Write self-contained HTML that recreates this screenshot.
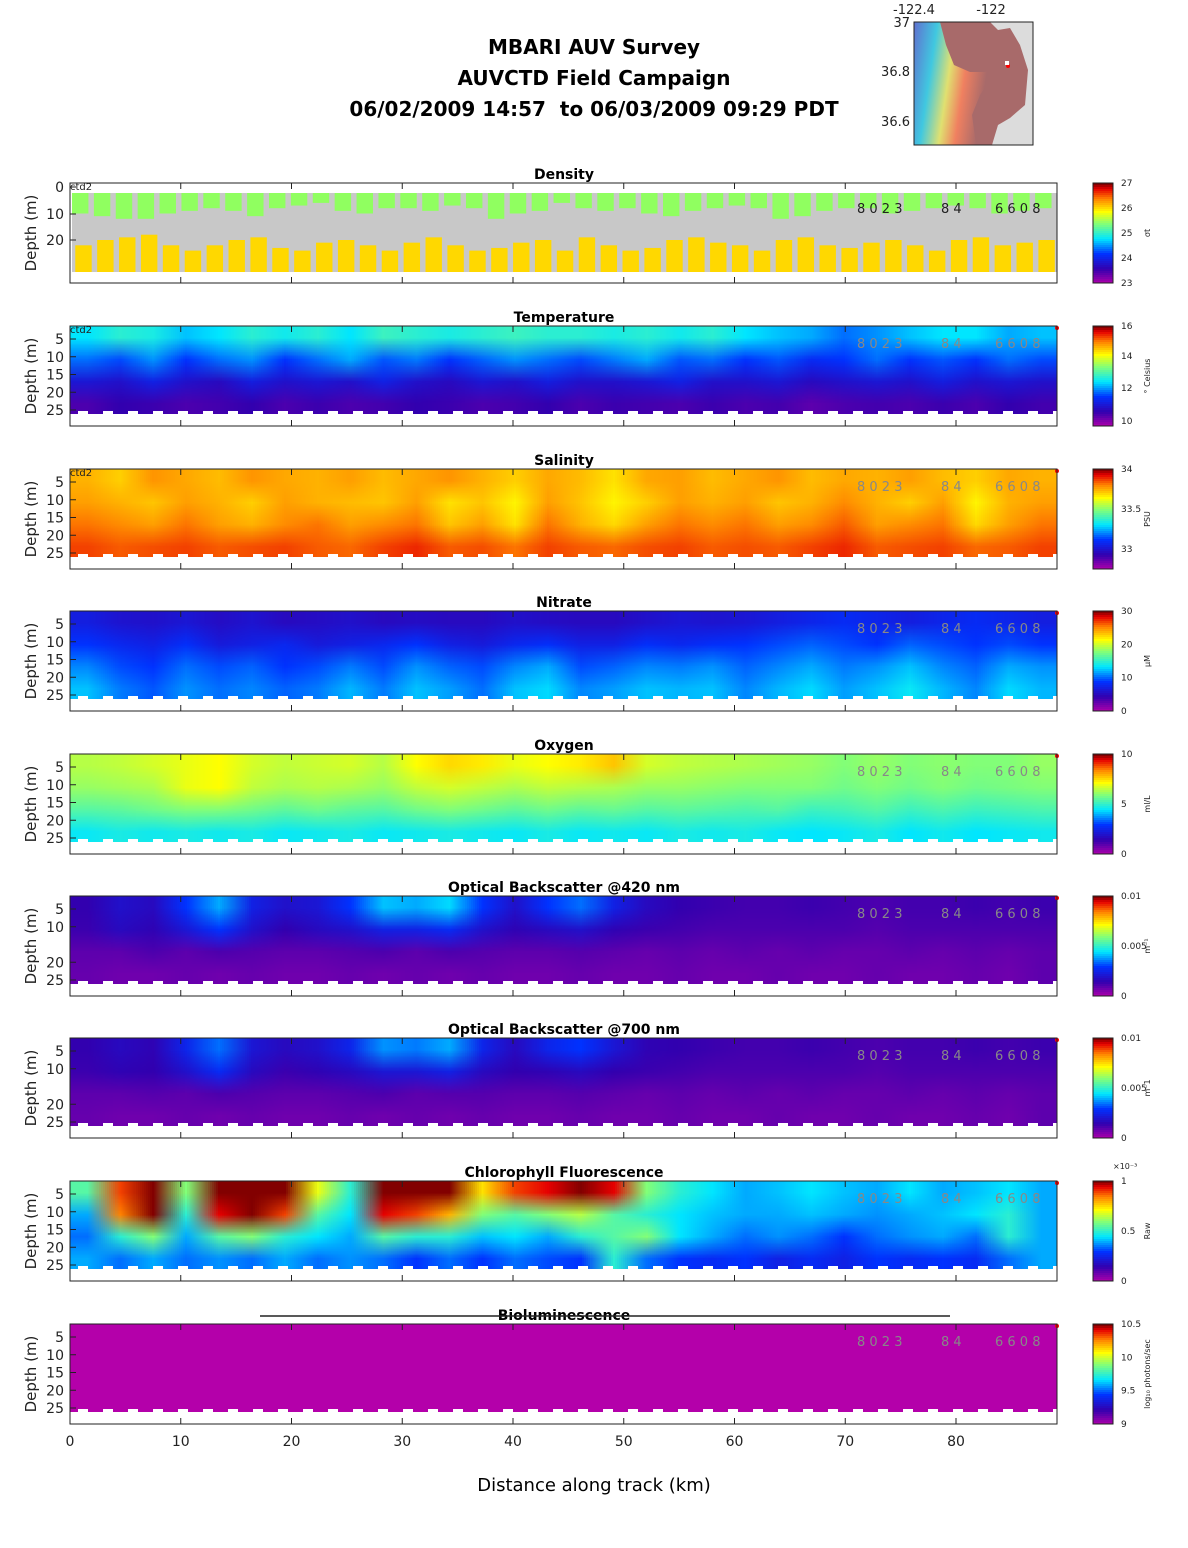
<!DOCTYPE html>
<html><head><meta charset="utf-8">
<style>
body{margin:0;background:#fff;font-family:"DejaVu Sans","Liberation Sans",sans-serif;}
#root{position:relative;width:1188px;height:1548px;overflow:hidden;}
.t{position:absolute;white-space:nowrap;color:#000;}
</style></head>
<body><div id="root">
<div class="t" style="left:0;width:1188px;text-align:center;top:32px;font-size:20px;font-weight:bold;line-height:31px;"><div>MBARI AUV Survey</div><div>AUVCTD Field Campaign</div><div>06/02/2009 14:57&nbsp; to 06/03/2009 09:29 PDT</div></div>
<svg id="map" style="position:absolute;left:880px;top:0" width="160" height="150">
<defs><linearGradient id="mg" x1="0" y1="0" x2="1" y2="0.2"><stop offset="0" stop-color="#6070d0"/><stop offset="0.25" stop-color="#40c8e0"/><stop offset="0.45" stop-color="#e0e070"/><stop offset="0.62" stop-color="#f08060"/><stop offset="0.85" stop-color="#a86a6a"/></linearGradient></defs>
<rect x="34" y="22" width="119" height="123" fill="#dcdcdc"/>
<path d="M34 22 H110 L118 30 L130 28 L140 45 L148 70 L145 105 L130 118 L118 125 L112 145 H34 Z" fill="#a86a6a"/>
<path d="M34 22 H60 L66 45 L74 65 L90 72 L105 72 L125 65 L110 80 L100 95 L92 115 L96 145 H34 Z" fill="url(#mg)"/>
<circle cx="128" cy="66" r="2" fill="red"/><rect x="125" y="61" width="4" height="4" fill="#fff"/>
<rect x="34" y="22" width="119" height="123" fill="none" stroke="#222"/>
<text x="34" y="14" font-size="13" text-anchor="middle" fill="#222" font-family="DejaVu Sans">-122.4</text>
<text x="111" y="14" font-size="13" text-anchor="middle" fill="#222" font-family="DejaVu Sans">-122</text>
<text x="30" y="27" font-size="13" text-anchor="end" fill="#222" font-family="DejaVu Sans">37</text>
<text x="30" y="76" font-size="13" text-anchor="end" fill="#222" font-family="DejaVu Sans">36.8</text>
<text x="30" y="126" font-size="13" text-anchor="end" fill="#222" font-family="DejaVu Sans">36.6</text>
</svg>
<svg id="plots" style="position:absolute;left:0;top:0" width="1188" height="1548"></svg>
<div class="t" style="left:0;width:1188px;text-align:center;top:1475px;font-size:18px;">Distance along track (km)</div>
</div>
<script>
// ---- data ----
const xTicks=[0,10,20,30,40,50,60,70,80];
const densGreen=[10,11,12,12,10,9,8,9,11,8,7,6,9,10,8,8,9,7,8,12,10,9,6,8,9,8,10,11,9,8,7,8,12,11,9,8,8,10,9,8,7,8,10,9,8];
const densYellow=[22,20,19,18,22,24,22,20,19,23,24,21,20,22,24,21,19,22,24,23,21,20,24,19,22,24,23,20,19,21,22,24,20,19,22,23,21,20,22,24,20,19,22,21,20];
const tempTop=[.45,.5,.48,.42,.45,.5,.47,.5,.45,.52,.5,.48,.5,.52,.5,.5,.48,.5,.47,.5,.45,.42,.4,.35,.38,.42,.45,.45,.4,.42];
const tempR2=[.35,.32,.38,.3,.35,.38,.3,.35,.4,.33,.36,.3,.34,.38,.35,.32,.36,.4,.33,.35,.3,.33,.28,.3,.35,.3,.33,.3,.35,.32];
const tempR3=[.22,.2,.25,.2,.18,.24,.2,.22,.2,.25,.2,.18,.22,.2,.24,.2,.2,.22,.25,.2,.2,.22,.18,.2,.22,.2,.24,.2,.22,.2];
const tempBot=[.12,.15,.14,.12,.13,.15,.12,.14,.12,.13,.15,.14,.12,.13,.15,.12,.14,.13,.12,.14,.12,.13,.1,.12,.13,.12,.14,.12,.15,.13];
const salTop=[.8,.77,.83,.81,.79,.83,.81,.8,.82,.79,.81,.83,.8,.77,.81,.79,.75,.81,.82,.79,.81,.83,.79,.81,.8,.82,.79,.77,.81,.8];
const salR2=[.82,.8,.78,.82,.8,.77,.82,.8,.79,.78,.82,.75,.78,.73,.82,.78,.73,.77,.82,.8,.82,.78,.8,.84,.8,.77,.82,.73,.8,.82];
const salR3=[.86,.84,.82,.86,.82,.8,.84,.86,.82,.84,.86,.78,.82,.75,.86,.8,.76,.82,.86,.84,.86,.82,.84,.88,.82,.84,.86,.76,.82,.86];
const salBot=[.9,.88,.89,.9,.88,.89,.9,.88,.87,.9,.92,.88,.89,.86,.9,.88,.87,.89,.9,.88,.89,.88,.9,.92,.88,.89,.9,.87,.88,.9];
const nitTop=[.24,.21,.2,.22,.19,.21,.18,.19,.2,.18,.19,.18,.18,.2,.19,.18,.18,.2,.22,.21,.22,.24,.26,.28,.26,.24,.26,.28,.26,.24];
const nitR2=[.3,.27,.25,.29,.23,.25,.27,.23,.25,.27,.3,.25,.23,.27,.29,.25,.25,.29,.27,.29,.3,.32,.34,.32,.3,.34,.32,.3,.32,.3];
const nitR3=[.37,.32,.3,.35,.32,.34,.3,.32,.36,.32,.38,.34,.32,.37,.4,.32,.34,.37,.36,.38,.34,.37,.4,.36,.38,.42,.37,.34,.4,.38];
const nitBot=[.42,.36,.33,.38,.35,.37,.34,.36,.41,.36,.42,.39,.35,.42,.44,.37,.39,.42,.41,.42,.37,.41,.44,.39,.42,.46,.41,.37,.44,.41];
const oxTop=[.65,.66,.68,.7,.72,.68,.66,.67,.68,.65,.72,.76,.74,.7,.72,.74,.78,.68,.66,.65,.64,.63,.62,.6,.62,.6,.61,.6,.6,.62];
const oxR2=[.62,.63,.64,.7,.72,.66,.64,.65,.64,.62,.66,.68,.66,.64,.66,.65,.64,.62,.62,.61,.6,.6,.6,.58,.6,.58,.6,.58,.59,.6];
const oxR3=[.55,.56,.58,.6,.6,.58,.56,.58,.56,.55,.58,.6,.58,.56,.58,.56,.57,.55,.56,.55,.54,.55,.52,.53,.55,.52,.54,.52,.53,.54];
const oxBot=[.46,.48,.47,.48,.47,.48,.46,.47,.48,.46,.47,.48,.47,.46,.48,.46,.47,.46,.48,.47,.48,.46,.45,.46,.48,.45,.47,.45,.46,.47];
const b420Top=[.15,.2,.18,.3,.4,.25,.2,.22,.3,.42,.4,.44,.3,.2,.3,.35,.25,.18,.15,.14,.13,.13,.14,.13,.12,.13,.13,.14,.13,.14];
const b420R2=[.14,.18,.16,.22,.3,.2,.15,.18,.2,.25,.25,.28,.2,.16,.18,.2,.16,.14,.13,.12,.12,.12,.12,.12,.11,.12,.12,.12,.12,.12];
const b420R3=[.1,.1,.12,.1,.12,.11,.1,.1,.11,.12,.1,.12,.11,.1,.1,.11,.1,.09,.1,.09,.1,.09,.1,.09,.09,.1,.09,.1,.09,.1];
const b420Bot=[.09,.08,.08,.09,.08,.09,.08,.08,.09,.08,.09,.08,.09,.08,.08,.09,.08,.08,.09,.08,.08,.09,.08,.08,.09,.08,.08,.09,.08,.1];
const b700Top=[.15,.18,.16,.26,.35,.22,.18,.2,.26,.38,.36,.4,.26,.18,.26,.3,.22,.16,.15,.14,.13,.13,.14,.13,.12,.13,.13,.14,.13,.14];
const b700R2=[.14,.16,.15,.2,.28,.18,.14,.16,.18,.22,.22,.25,.18,.15,.16,.18,.15,.14,.13,.12,.12,.12,.12,.12,.11,.12,.12,.12,.12,.12];
const b700R3=[.1,.1,.11,.1,.12,.11,.1,.1,.11,.12,.1,.11,.11,.1,.1,.11,.1,.09,.1,.09,.1,.09,.1,.09,.09,.1,.09,.1,.09,.1];
const b700Bot=[.09,.08,.08,.09,.08,.09,.08,.08,.09,.08,.09,.08,.09,.08,.08,.09,.08,.08,.09,.08,.08,.09,.08,.08,.09,.08,.08,.09,.08,.1];
const chlTop=[.55,.9,1,.6,1,1,1,.7,.5,1,1,1,.75,.9,.95,1,.95,.6,.5,.45,.4,.42,.45,.42,.4,.45,.4,.42,.45,.4];
const chlR2=[.4,.85,1,.5,.95,1,.9,.55,.45,.95,.9,.8,.6,.55,.6,.65,.55,.5,.45,.42,.4,.4,.42,.4,.38,.4,.42,.45,.5,.4];
const chlR3=[.35,.5,.6,.4,.55,.6,.5,.45,.4,.55,.5,.5,.42,.45,.4,.5,.55,.6,.45,.4,.35,.38,.35,.3,.35,.38,.4,.35,.5,.4];
const chlBot=[.4,.35,.4,.35,.38,.35,.4,.35,.38,.35,.3,.35,.3,.35,.32,.3,.5,.35,.3,.28,.3,.25,.28,.25,.3,.28,.3,.28,.35,.4];
const bioTop=[0,0,0,0,0,0,0,0,0,0,0,0,0,0,0,0,0,0,0,0,0,0,0,0,0,0,0,0,0,0];
const bioBot=[0,0,0,0,0,0,0,0,0,0,0,0,0,0,0,0,0,0,0,0,0,0,0,0,0,0,0,0,0,0];

// ---- drawing ----
const svg=document.getElementById('plots');
const NS='http://www.w3.org/2000/svg';
const X0=70,X1=1057,xScale=v=>X0+v*(956-70)/80;
const stops=[[0,[180,0,170]],[.15,[50,0,175]],[.3,[0,50,255]],[.45,[0,230,255]],[.6,[130,255,120]],[.72,[255,255,0]],[.85,[255,130,0]],[.95,[230,0,0]],[1,[130,0,0]]];
function cmap(v){v=Math.max(0,Math.min(1,v));for(let i=1;i<stops.length;i++){if(v<=stops[i][0]){const a=stops[i-1],b=stops[i],t=(v-a[0])/(b[0]-a[0]);return a[1].map((c,k)=>Math.round(c+(b[1][k]-c)*t));}}return stops[stops.length-1][1];}
function el(tag,attrs,parent){const e=document.createElementNS(NS,tag);for(const k in attrs)e.setAttribute(k,attrs[k]);(parent||svg).appendChild(e);return e;}
function txt(x,y,s,size,anchor,extra){const e=el('text',Object.assign({x:x,y:y,'font-size':size,'text-anchor':anchor||'start','font-family':'DejaVu Sans, Liberation Sans, sans-serif',fill:'#222'},extra||{}));e.textContent=s;return e;}

const panels=[
 {name:'density',title:'Density',top:183,rows:null,ticks:[[0,187],[10,214],[20,240]],cb:['23','24','25','26','27'],unit:'σt',ctd:true},
 {name:'temperature',title:'Temperature',top:326,rows:[tempTop,tempR2,tempR3,tempBot],cb:['10','12','14','16'],cbv:[0.05,0.38,0.7,1],unit:'° Celsius',ctd:true},
 {name:'salinity',title:'Salinity',top:469,rows:[salTop,salR2,salR3,salBot],cb:['33','33.5','34'],cbv:[0.2,0.6,1],unit:'PSU',ctd:true},
 {name:'nitrate',title:'Nitrate',top:611,rows:[nitTop,nitR2,nitR3,nitBot],cb:['0','10','20','30'],unit:'μM'},
 {name:'oxygen',title:'Oxygen',top:754,rows:[oxTop,oxR2,oxR3,oxBot],cb:['0','5','10'],unit:'ml/L'},
 {name:'backscatter-420',title:'Optical Backscatter @420 nm',top:896,rows:[b420Top,b420R2,b420R3,b420Bot],cb:['0','0.005','0.01'],unit:'m⁻¹',no15:true},
 {name:'backscatter-700',title:'Optical Backscatter @700 nm',top:1038,rows:[b700Top,b700R2,b700R3,b700Bot],cb:['0','0.005','0.01'],unit:'m⁻1',no15:true},
 {name:'chlorophyll',title:'Chlorophyll Fluorescence',top:1181,rows:[chlTop,chlR2,chlR3,chlBot],cb:['0','0.5','1'],unit:'Raw',exp:true},
 {name:'bioluminescence',title:'Bioluminescence',top:1324,rows:[bioTop,bioTop,bioBot,bioBot],cb:['9','9.5','10','10.5'],unit:'log₁₀ photons/sec'}
];
panels.forEach((p,pi)=>{
 const g=el('g',{});
 
 
 const T=p.top,H=100;
 const tt=txt(564,T-4,p.title,14,'middle',{'font-weight':'bold',fill:'#000'});
 
 
 if(p.name==='density'){
  const bg=el('rect',{x:X0+2,y:193,width:X1-X0-2,height:79,fill:'#c8c8c8'},g);
  
  
  const n=densGreen.length,w=(X1-X0-2)/n,dy=d=>187+d*2.65;
  densGreen.forEach((d,i)=>{const r=el('rect',{x:X0+2+i*w,y:193,width:w*0.75,height:dy(d)-193,fill:'#90ff60'},g);
   
   });
  densYellow.forEach((d,i)=>{const r=el('rect',{x:X0+2+i*w+w*0.15,y:dy(d),width:w*0.75,height:272-dy(d),fill:'#ffd800'},g);
   
   });
 } else {
  const fo=el('foreignObject',{x:X0,y:T,width:X1-X0,height:88},g);
  const c=document.createElement('canvas');
  const rows=p.rows,cols=rows[0].length;
  c.width=cols;c.height=rows.length;
  c.style.cssText='width:'+(X1-X0)+'px;height:88px;display:block;image-rendering:auto;';
  
  
  const ctx=c.getContext('2d');const img=ctx.createImageData(cols,rows.length);
  rows.forEach((r,ri)=>r.forEach((v,ci)=>{const col=cmap(v),o=(ri*cols+ci)*4;img.data[o]=col[0];img.data[o+1]=col[1];img.data[o+2]=col[2];img.data[o+3]=255;}));
  ctx.putImageData(img,0,0);fo.appendChild(c);
  for(let k=0;k<40;k++){el('rect',{x:X0+k*25+8,y:T+85,width:10,height:3,fill:'#fff'},g);}
  const ys=p.no15?[5,10,20,25]:[5,10,15,20,25];
  ys.forEach(d=>{const y=T+13+(d-5)*3.55;txt(64,y+5,String(d),14,'end');el('line',{x1:X0,x2:X0+6,y1:y,y2:y,stroke:'#222'},g);});
  el('circle',{cx:1057,cy:T+2,r:2,fill:'red'},g);
 }
 if(p.ticks)p.ticks.forEach(t=>{txt(64,t[1]+5,String(t[0]),14,'end');el('line',{x1:X0,x2:X0+6,y1:t[1],y2:t[1],stroke:'#222'},g);});
 el('rect',{x:X0,y:T,width:X1-X0,height:H,fill:'none',stroke:'#222','stroke-width':1},g);
 xTicks.forEach(v=>{const x=xScale(v);el('line',{x1:x,x2:x,y1:T+H,y2:T+H-6,stroke:'#222'},g);el('line',{x1:x,x2:x,y1:T,y2:T+6,stroke:'#222'},g);
  if(pi===panels.length-1)txt(x,T+H+22,String(v),14,'middle');});
 const yl=txt(0,0,'Depth (m)',15,'middle',{transform:'translate(36,'+(T+H/2)+') rotate(-90)'});
 
 
 if(p.ctd)txt(X0,T+7,'ctd2',10,'start');
 const mc=p.name==='density'?'#222':'#888';
 txt(857,T+(p.name==='density'?30:22),'8 0 2 3',13,'start',{fill:mc});
 txt(941,T+(p.name==='density'?30:22),'8 4',13,'start',{fill:mc});
 txt(995,T+(p.name==='density'?30:22),'6 6 0 8',13,'start',{fill:mc});
 const cb=el('g',{},g);
 
 
 for(let k=0;k<50;k++){const col=cmap(1-k/50);el('rect',{x:1093,y:T+k*2,width:20,height:2.2,fill:'rgb('+col+')'},cb);}
 el('rect',{x:1093,y:T,width:20,height:H,fill:'none',stroke:'#222'},cb);
 const n=p.cb.length;
 p.cb.forEach((s,i)=>{const f=p.cbv?p.cbv[i]:i/(n-1);const y=T+H-f*H;txt(1121,y+3,s,9,'start');});
 txt(0,0,p.unit,8,'middle',{transform:'translate(1150,'+(T+H/2)+') rotate(-90)'});
 if(p.exp)txt(1113,T-12,'×10⁻³',8,'start');
});
el('line',{x1:260,x2:950,y1:1316,y2:1316,stroke:'#222','stroke-width':1.5});
</script>
</body></html>
